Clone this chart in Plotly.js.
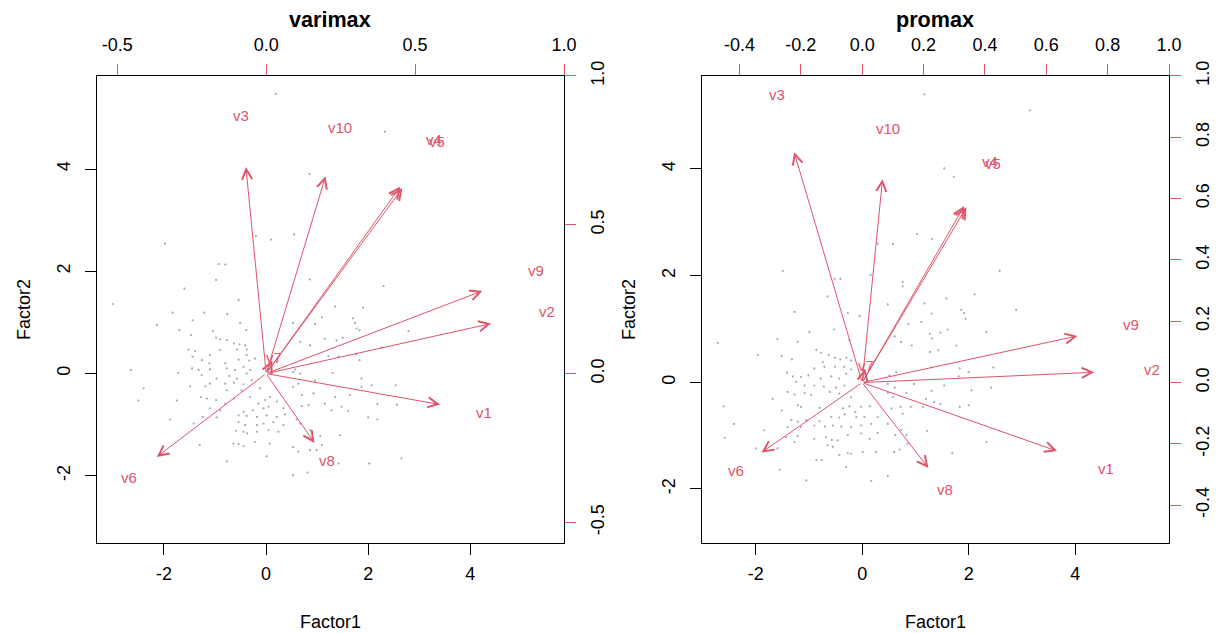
<!DOCTYPE html>
<html>
<head>
<meta charset="utf-8">
<script src="https://cdn.plot.ly/plotly-3.0.1.min.js"></script>
<style>html,body{margin:0;padding:0;background:#fff;}#chart{width:1222px;height:633px;}</style>
</head>
<body>
<div id="chart"></div>
<script>
// ---------------- data ----------------
const varNames = ['v1','v2','v3','v4','v5','v6','v7','v8','v9','v10'];

// loadings (label positions) – varimax
const varimaxLoad1 = [0.730, 0.944, -0.085, 0.563, 0.572, -0.459, 0.026, 0.203, 0.907, 0.249];
const varimaxLoad2 = [-0.130, 0.210, 0.867, 0.785, 0.779, -0.350, 0.055, -0.291, 0.347, 0.828];

// loadings (label positions) – promax
const promaxLoad1 = [0.794, 0.945, -0.277, 0.416, 0.425, -0.410, 0.012, 0.270, 0.877, 0.083];
const promaxLoad2 = [-0.279, 0.042, 0.939, 0.720, 0.715, -0.285, 0.057, -0.348, 0.190, 0.829];

// factor scores – varimax
const varimaxScore1 = [
 -0.93,-0.80,-0.98,-1.60,-3.00,-0.54,-1.83,-1.21,-0.76,-2.14,
 -1.44,-0.51,-1.70,-1.04,-0.39,-1.47,-0.98,-0.90,-0.77,-0.63,
 -0.52,-0.41,-1.52,-1.39,-1.10,-0.90,-0.57,-0.38,-0.22,-1.44,
 -1.26,-1.11,-0.80,-0.54,-0.38,-0.33,-1.45,-1.32,-1.10,-0.77,
 -0.61,-0.44,-0.31,-2.65,-1.72,-1.26,-0.97,-0.72,-0.57,-0.38,
 -1.10,-1.49,-1.19,-0.80,-0.63,-0.44,-0.28,-0.12,-2.40,-0.77,
 -0.48,-1.28,-1.16,-0.98,-0.80,-0.63,-0.31,-0.15,-0.02,0.08,
 0.21,-2.50,-1.75,-1.10,-0.90,-0.44,-0.26,-0.05,0.05,0.34,
 -1.24,-0.97,-0.54,-0.38,-0.18,0.01,0.21,0.37,-1.88,-1.42,
 -0.54,-0.41,-0.18,-0.05,0.14,0.34,-0.59,-0.44,-0.37,-0.18,
 0.05,0.24,-1.30,-0.64,-0.54,-0.44,-0.22,0.07,-0.77,0.01,
 0.86,2.30,1.90,1.35,0.53,0.96,1.09,1.70,1.74,1.77,
 1.83,2.79,1.15,1.38,1.50,0.67,0.86,2.26,1.22,1.42,
 1.77,1.83,0.57,0.67,0.53,1.30,1.87,2.07,1.87,2.54,
 0.96,0.53,0.63,0.93,0.70,1.35,1.64,1.15,2.18,2.56,
 0.83,0.70,1.48,1.28,1.61,0.60,0.67,2.00,2.18,1.45,
 1.06,0.86,0.99,0.86,0.53,0.63,1.09,1.42,2.02,2.65,
 0.81,0.53,
 0.19,2.33,0.85,0.10,0.55,-0.20,-1.98
];
const varimaxScore2 = [
 2.14,2.13,1.83,1.66,1.36,1.44,1.19,1.19,1.16,0.95,
 1.04,0.99,0.85,0.83,0.85,0.75,0.70,0.67,0.65,0.59,
 0.57,0.55,0.47,0.44,0.36,0.46,0.47,0.47,0.29,0.33,
 0.26,0.20,0.20,0.27,0.36,0.25,0.10,0.07,0.08,0.10,
 0.07,0.13,0.07,0.07,0.01,-0.03,-0.10,-0.05,-0.10,0.00,
 -0.20,-0.25,-0.25,-0.20,-0.18,-0.21,-0.13,-0.29,-0.29,-0.33,
 -0.33,-0.46,-0.49,-0.52,-0.59,-0.49,-0.46,-0.59,-0.52,-0.46,
 -0.55,-0.53,-0.53,-0.68,-0.72,-0.75,-0.72,-0.68,-0.65,-0.68,
 -0.85,-0.86,-0.82,-0.83,-0.85,-0.82,-0.85,-0.80,-0.90,-0.98,
 -0.95,-1.01,-1.01,-0.98,-0.95,-1.01,-1.12,-1.14,-1.17,-1.14,
 -1.11,-1.14,-1.40,-1.37,-1.38,-1.42,-1.34,-1.37,-1.72,-1.62,
 1.84,1.71,1.29,1.31,0.99,0.97,1.10,1.08,0.99,0.88,
 0.85,0.83,0.68,0.65,0.70,0.62,0.55,0.51,0.34,0.33,
 0.37,0.26,0.08,0.00,0.03,0.01,-0.10,-0.23,-0.26,-0.23,
 -0.14,-0.26,-0.20,-0.39,-0.42,-0.46,-0.42,-0.59,-0.60,-0.61,
 -0.62,-0.64,-0.65,-0.72,-0.73,-0.90,-0.98,-0.86,-0.90,-1.21,
 -1.22,-1.11,-1.50,-1.50,-1.44,-1.53,-1.40,-1.76,-1.76,-1.66,
 -1.94,-1.99,
 5.47,4.73,3.90,2.62,2.72,2.69,2.54
];

// factor scores – promax
const promaxScore1 = [
 -1.49,-0.52,-0.41,0.16,-0.65,-1.27,-0.27,-0.05,-0.53,-0.99,
 -2.71,-1.59,-1.21,-0.24,-1.96,-1.51,-1.32,-0.86,-0.77,-0.63,
 -0.51,-0.41,-0.30,-0.21,-0.90,-0.71,-0.51,-0.34,-0.21,-0.74,
 -1.41,-1.30,-1.15,-1.01,-0.78,-0.58,-0.43,-0.30,-1.24,-1.08,
 -0.90,-0.72,-0.49,-0.33,-1.40,-1.27,-1.08,-0.96,-0.61,-0.43,
 -0.21,-1.68,-2.60,-1.51,-1.21,-1.15,-0.80,-0.36,-0.24,-0.13,
 -0.02,0.14,-1.33,-1.21,-1.05,-0.80,-0.58,-0.43,-0.33,-0.11,
 0.04,0.29,-2.41,-1.84,-1.40,-1.15,-0.90,-0.70,-0.55,-0.39,
 -0.21,-0.02,0.17,0.29,-2.58,-1.43,-1.21,-0.90,-0.68,-0.57,
 -0.46,-0.27,-0.02,0.14,-1.99,-1.59,-1.27,-0.65,-0.55,-0.27,
 -0.21,0.01,0.26,-0.86,-0.76,-0.43,-0.30,-1.55,-1.05,0.17,
 0.76,0.76,2.11,1.58,0.48,1.17,1.86,1.91,2.89,1.30,
 1.94,1.11,0.87,1.60,1.47,2.33,1.27,1.31,0.61,0.73,
 0.93,1.77,1.27,1.43,2.46,1.30,1.83,2.00,1.81,0.64,
 0.51,0.97,0.48,0.61,1.54,2.05,2.42,0.48,0.83,0.58,
 1.30,1.20,1.35,1.47,1.83,2.00,0.72,0.91,1.14,0.55,
 0.76,0.48,0.73,0.62,0.83,1.22,0.85,0.70,0.60,2.33,
 1.69,0.48,2.58,
 1.17,3.15,1.54,1.72,1.03,1.31,0.29,0.58
];
const promaxScore2 = [
 2.09,1.94,1.94,2.01,1.61,1.32,1.30,1.24,0.99,0.94,
 0.74,0.81,0.76,0.79,0.51,0.49,0.43,0.61,0.55,0.51,
 0.46,0.43,0.46,0.41,0.26,0.29,0.29,0.29,0.24,0.38,
 0.18,0.11,0.10,0.13,0.07,0.11,0.07,0.16,0.01,-0.06,
 -0.06,-0.08,-0.10,-0.06,-0.18,-0.23,-0.20,-0.24,-0.18,-0.21,
 -0.28,-0.31,-0.45,-0.53,-0.43,-0.46,-0.48,-0.49,-0.45,-0.56,
 -0.46,-0.45,-0.71,-0.74,-0.71,-0.73,-0.65,-0.66,-0.60,-0.65,
 -0.65,-0.65,-0.78,-0.90,-0.84,-0.84,-0.81,-0.83,-0.81,-0.83,
 -0.84,-0.81,-0.78,-0.95,-1.04,-1.03,-1.01,-1.06,-1.03,-1.08,
 -1.09,-0.99,-0.96,-1.06,-1.24,-1.24,-1.12,-1.18,-1.21,-1.33,
 -1.34,-1.31,-1.31,-1.46,-1.46,-1.36,-1.59,-1.64,-1.84,-1.85,
 1.88,1.80,1.65,1.57,1.46,1.48,1.36,1.30,1.36,1.29,
 1.19,1.13,1.09,0.99,0.93,0.94,0.91,0.82,0.86,0.76,
 0.69,0.69,0.57,0.60,0.28,0.28,0.26,0.19,0.11,0.19,
 0.13,-0.03,-0.03,-0.10,-0.06,-0.15,-0.10,-0.20,-0.20,-0.28,
 -0.16,-0.31,-0.37,-0.41,-0.46,-0.43,-0.46,-0.46,-0.46,-0.49,
 -0.59,-0.78,-0.89,-0.99,-0.99,-0.91,-1.15,-1.26,-1.31,-1.12,
 -1.33,-1.76,2.09,
 5.40,5.10,4.01,3.85,2.78,2.69,2.60,2.59
];

// tick labels
const scoreTicks = [-2, 0, 2, 4];
const varimaxLoadTicks = [-0.5, 0.0, 0.5, 1.0];
const varimaxLoadTickText = ['-0.5', '0.0', '0.5', '1.0'];
const promaxLoadTicks = [-0.4, -0.2, 0.0, 0.2, 0.4, 0.6, 0.8, 1.0];
const promaxLoadTickText = ['-0.4', '-0.2', '0.0', '0.2', '0.4', '0.6', '0.8', '1.0'];
const panelTitles = ['varimax', 'promax'];
const axisLabels = ['Factor1', 'Factor2'];

// ---------------- styling ----------------
const RED = '#DF536B';
const FONT = 'Liberation Sans, Arial, Helvetica, sans-serif';
const TICKFONT = {family: FONT, size: 18, color: '#000'};
const W = 1222, H = 633;
const topPx = 75.7, botPx = 543;
const yDom = [(H - botPx) / H, (H - topPx) / H];
const leftDom = [96.7 / W, 564 / W];
const rightDom = [701.7 / W, 1169 / W];

function baseAxis(domain, range, extra) {
  return Object.assign({
    domain: domain, range: range, autorange: false, tickmode: 'array',
    ticks: 'outside', ticklen: 11, tickwidth: 1,
    showgrid: false, zeroline: false, tickfont: TICKFONT
  }, extra);
}
function scoreAxis(domain, range, anchor, extra) {
  return baseAxis(domain, range, Object.assign({
    anchor: anchor, tickvals: scoreTicks, ticktext: scoreTicks.map(String),
    tickcolor: '#000', showline: true, mirror: true, linecolor: '#000', linewidth: 1
  }, extra || {}));
}
function loadAxis(domain, range, overlay, anchor, side, vals, txt, extra) {
  return baseAxis(domain, range, Object.assign({
    overlaying: overlay, anchor: anchor, side: side,
    tickvals: vals, ticktext: txt, tickcolor: RED, showline: false
  }, extra || {}));
}

const layout = {
  width: W, height: H,
  margin: {l: 0, r: 0, t: 0, b: 0},
  paper_bgcolor: '#fff', plot_bgcolor: 'rgba(0,0,0,0)',
  showlegend: false,
  font: {family: FONT, color: '#000'},
  xaxis: scoreAxis(leftDom, [-3.318, 5.835], 'y', {ticklabelstandoff: 3}),
  yaxis: scoreAxis(yDom, [-3.316, 5.826], 'x', {tickangle: -90, ticklabelstandoff: 8}),
  xaxis2: loadAxis(leftDom, [-0.569, 1.0], 'x', 'y', 'top', varimaxLoadTicks, varimaxLoadTickText, {ticklabelstandoff: 6}),
  yaxis2: loadAxis(yDom, [-0.569, 1.0005], 'y', 'x', 'right', varimaxLoadTicks, varimaxLoadTickText, {tickangle: -90, ticklabelstandoff: 6}),
  xaxis3: scoreAxis(rightDom, [-3.013, 5.759], 'y3', {ticklabelstandoff: 3}),
  yaxis3: scoreAxis(yDom, [-3.013, 5.749], 'x3', {tickangle: -90, ticklabelstandoff: 8}),
  xaxis4: loadAxis(rightDom, [-0.523, 1.0], 'x3', 'y3', 'top', promaxLoadTicks, promaxLoadTickText, {ticklabelstandoff: 6}),
  yaxis4: loadAxis(yDom, [-0.523, 1.0005], 'y3', 'x3', 'right', promaxLoadTicks, promaxLoadTickText, {tickangle: -90, ticklabelstandoff: 6}),
  annotations: []
};

const panels = [
  {load1: varimaxLoad1, load2: varimaxLoad2, xr: 'x2', yr: 'y2', dom: leftDom, title: panelTitles[0]},
  {load1: promaxLoad1, load2: promaxLoad2, xr: 'x4', yr: 'y4', dom: rightDom, title: panelTitles[1]}
];

panels.forEach(p => {
  const cx = (p.dom[0] + p.dom[1]) / 2;
  // arrows (R biplot draws them to 0.8 x loading)
  varNames.forEach((nm, i) => {
    layout.annotations.push({
      xref: p.xr, yref: p.yr, axref: p.xr, ayref: p.yr,
      x: 0.8 * p.load1[i], y: 0.8 * p.load2[i], ax: 0, ay: 0,
      showarrow: true, arrowhead: 5, arrowsize: 2, arrowwidth: 1,
      arrowcolor: RED, standoff: 0, startstandoff: 0, text: ''
    });
  });
  // labels at loading positions
  varNames.forEach((nm, i) => {
    layout.annotations.push({
      xref: p.xr, yref: p.yr, x: p.load1[i], y: p.load2[i],
      text: nm, showarrow: false, xanchor: 'center', yanchor: 'middle',
      font: {family: FONT, size: 15, color: RED}
    });
  });
  // titles
  layout.annotations.push({
    xref: 'paper', yref: 'paper', x: cx, y: 1 - 19 / H, text: '<b>' + p.title + '</b>',
    showarrow: false, xanchor: 'center', yanchor: 'middle',
    font: {family: FONT, size: 21.6, color: '#000'}
  });
  layout.annotations.push({
    xref: 'paper', yref: 'paper', x: cx, y: 1 - 622 / H, text: axisLabels[0],
    showarrow: false, xanchor: 'center', yanchor: 'middle',
    font: {family: FONT, size: 18, color: '#000'}
  });
  layout.annotations.push({
    xref: 'paper', yref: 'paper', x: p.dom[0] - 72 / W, y: 1 - 309.4 / H, text: axisLabels[1],
    showarrow: false, xanchor: 'center', yanchor: 'middle', textangle: -90,
    font: {family: FONT, size: 18, color: '#000'}
  });
});

const pointStyle = {size: 2.2, color: 'rgba(140,145,168,0.8)', line: {width: 0}};
const data = [
  {type: 'scatter', mode: 'markers', x: varimaxScore1, y: varimaxScore2, xaxis: 'x', yaxis: 'y',
   marker: pointStyle, hoverinfo: 'skip', cliponaxis: true},
  {type: 'scatter', mode: 'markers', x: promaxScore1, y: promaxScore2, xaxis: 'x3', yaxis: 'y3',
   marker: pointStyle, hoverinfo: 'skip', cliponaxis: true}
];

Plotly.newPlot('chart', data, layout, {staticPlot: true, displayModeBar: false});
</script>
</body>
</html>
